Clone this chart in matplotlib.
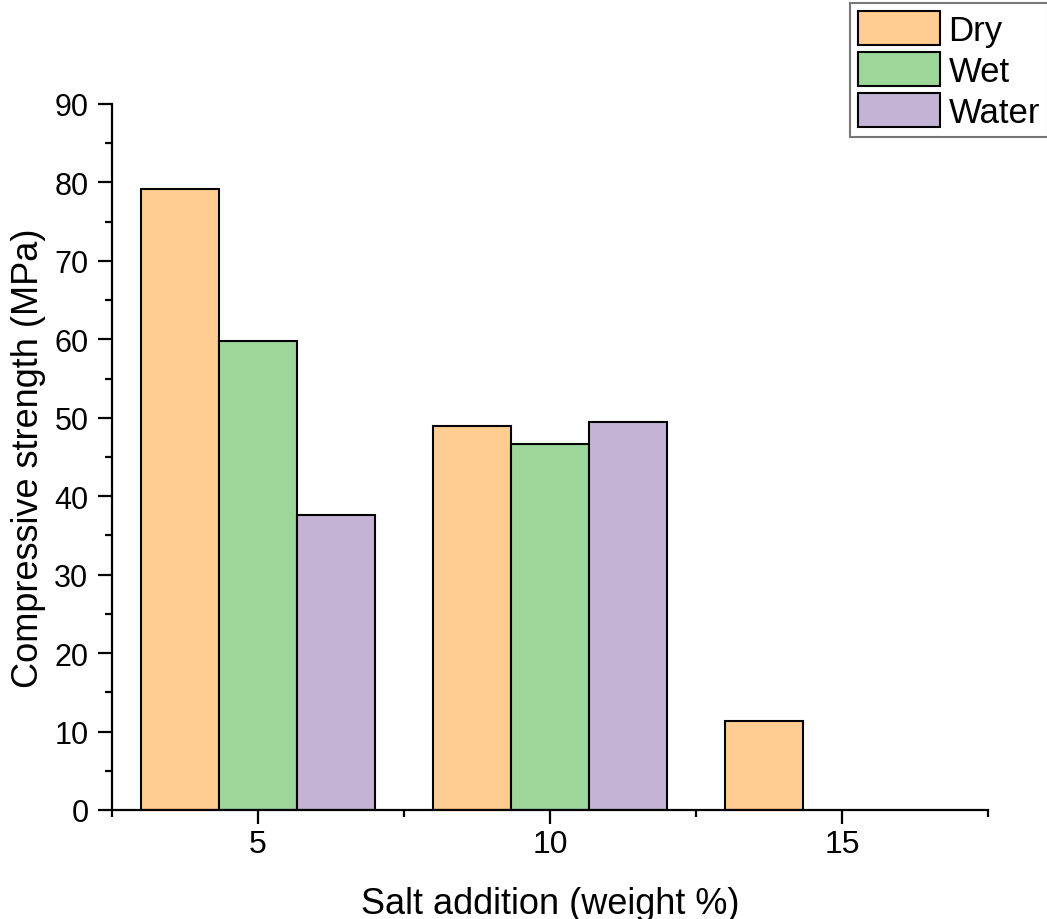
import numpy as np
import matplotlib
matplotlib.use('Agg')
import matplotlib.pyplot as plt
from matplotlib.ticker import MultipleLocator

# Data
salt = [5, 10, 15]
dry = [79.1, 48.9, 11.3]
wet = [59.8, 46.7, np.nan]    # no bar at 15 %
water = [37.6, 49.4, np.nan]  # no bar at 15 %

series = [('Dry', dry, '#FFCC91'),
          ('Wet', wet, '#9DD69A'),
          ('Water', water, '#C5B3D6')]

plt.rcParams['font.family'] = ['Liberation Sans', 'DejaVu Sans']

fig = plt.figure(figsize=(10.47, 9.2), dpi=100)
ax = fig.add_axes([0.107, 0.1185, 0.8367, 0.7674])

width = 4 / 3
x = np.array(salt, dtype=float)
handles = []
for i, (name, vals, col) in enumerate(series):
    vals = np.array(vals, dtype=float)
    ok = ~np.isnan(vals)
    b = ax.bar(x[ok] + (i - 1) * width, vals[ok], width=width, color=col,
               edgecolor='black', linewidth=1.5, label=name, zorder=2)
    handles.append(b)

ax.set_xlim(2.5, 17.5)
ax.set_ylim(0, 90)
ax.xaxis.set_major_locator(MultipleLocator(5))
ax.xaxis.set_minor_locator(MultipleLocator(2.5))
ax.yaxis.set_major_locator(MultipleLocator(10))
ax.yaxis.set_minor_locator(MultipleLocator(5))

for s in ['top', 'right']:
    ax.spines[s].set_visible(False)
for s in ['left', 'bottom']:
    ax.spines[s].set_linewidth(1.6)

ax.tick_params(which='major', direction='out', length=10, width=1.6)
ax.tick_params(which='minor', direction='out', length=5, width=1.6)
ax.tick_params(axis='y', which='major', labelsize=22, pad=7)
ax.tick_params(axis='x', which='major', labelsize=23, pad=4)

ax.set_xlabel('Salt addition (weight %)', fontsize=26, labelpad=19)
ax.set_ylabel('Compressive strength (MPa)', fontsize=26, labelpad=6)

leg = fig.legend(handles=handles, loc='upper left', bbox_to_anchor=(850 / 1047, 1 - 4 / 920),
                 fontsize=25, frameon=True, fancybox=False, edgecolor='#555555',
                 handlelength=2.36, handleheight=1.15, handletextpad=0.25,
                 labelspacing=0.14, borderpad=0.23, borderaxespad=0)
leg.get_frame().set_linewidth(1.5)

fig.savefig('out.png', dpi=100, facecolor='white')
